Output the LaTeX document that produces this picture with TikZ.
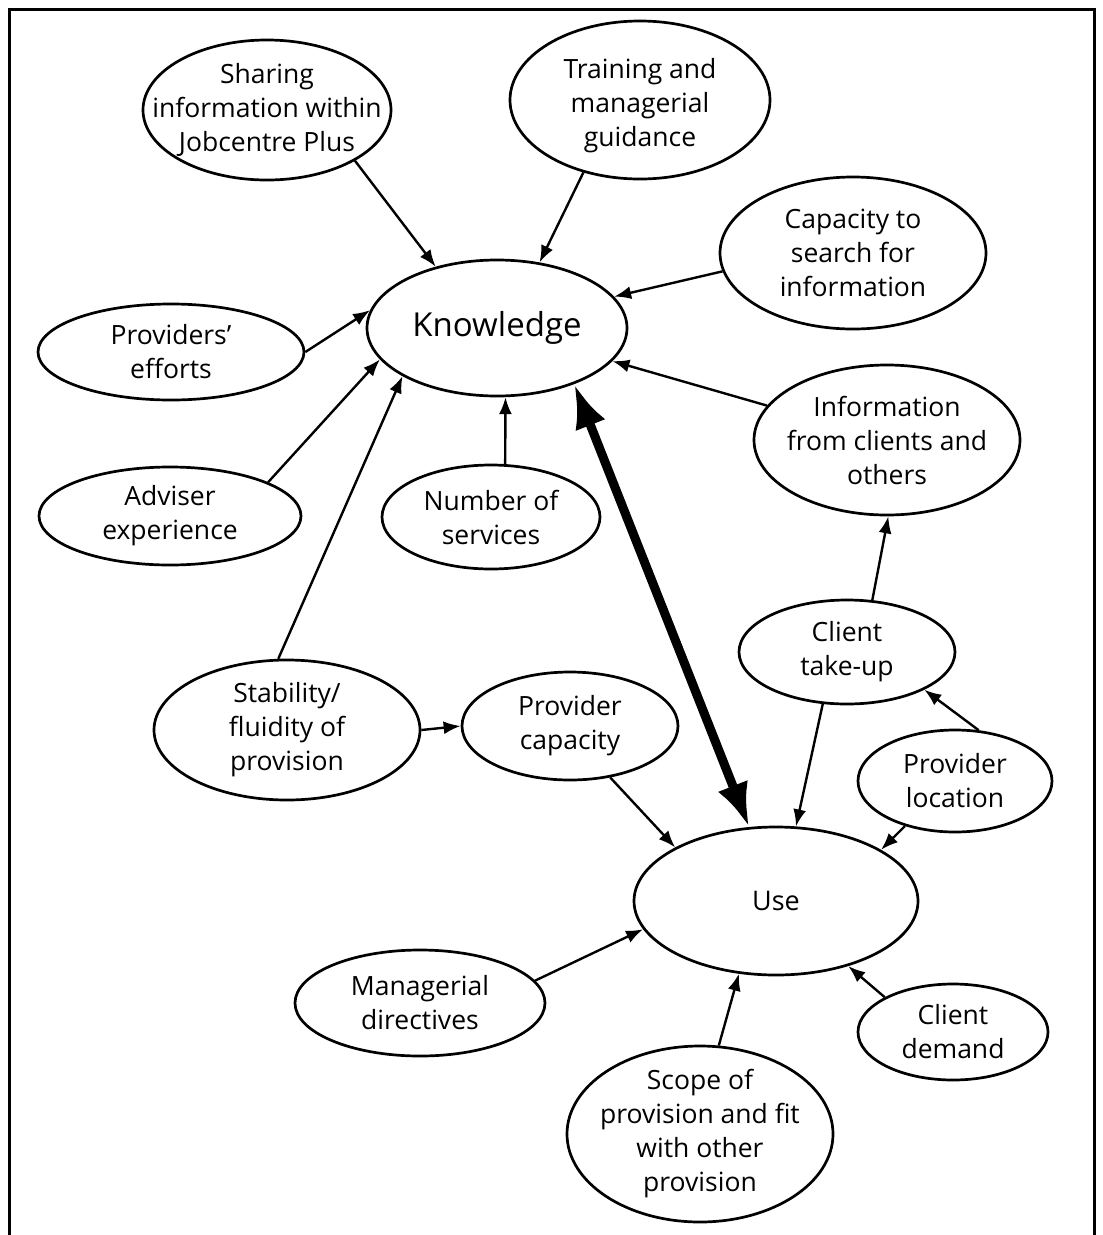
\documentclass[tikz,border=0pt]{standalone}
\usepackage{fontspec}
\setmainfont{Open Sans}
\usetikzlibrary{shapes.geometric,arrows.meta}
\tikzset{
  el/.style={draw, line width=2.7pt, ellipse, inner sep=0pt},
  txt/.style={align=center, inner sep=0pt, font=\fontsize{26.5}{34}\selectfont},
  arr/.style={line width=2.4pt, -{Latex[length=17pt,width=13pt]}},
  bigarr/.style={line width=9pt, {Latex[length=44pt,width=32pt]}-{Latex[length=44pt,width=32pt]}},
  frame/.style={line width=3pt}
}
\begin{document}
\begin{tikzpicture}[x=1pt,y=-1pt]
\useasboundingbox (0,0) rectangle (1103,1235);
\coordinate (bl) at (9,1235);
\coordinate (tl) at (9,9);
\coordinate (tr) at (1094,9);
\coordinate (br) at (1094,1235);
\draw[frame] (bl) -- (tl) -- (tr) -- (br);

\node[el, minimum width=248pt, minimum height=140pt] (sharing) at (267,110) {};
\node[txt] (sharing-t) at (sharing) {Sharing\\information within\\Jobcentre Plus};
\node[el, minimum width=260pt, minimum height=158pt] (training) at (640,100) {};
\node[txt] (training-t) at (640,106) {Training and\\managerial\\guidance};
\node[el, minimum width=266pt, minimum height=152pt] (capacity) at (853,253) {};
\node[txt] (capacity-t) at (capacity) {Capacity to\\search for\\information};
\node[el, minimum width=260pt, minimum height=136pt] (know) at (497,328) {};
\node[txt, font=\fontsize{33}{38}\selectfont] (know-t) at (know) {Knowledge};
\node[el, minimum width=266pt, minimum height=96pt] (providers) at (171,352) {};
\node[txt] (providers-t) at (providers) {Providers'\\efforts};
\node[el, minimum width=266pt, minimum height=150pt] (info) at (887,440) {};
\node[txt] (info-t) at (info) {Information\\from clients and\\others};
\node[el, minimum width=262pt, minimum height=98pt] (adviser) at (170,516) {};
\node[txt] (adviser-t) at (adviser) {Adviser\\experience};
\node[el, minimum width=218pt, minimum height=104pt] (number) at (491,517) {};
\node[txt] (number-t) at (number) {Number of\\services};
\node[el, minimum width=216pt, minimum height=104pt] (takeup) at (847,652) {};
\node[txt] (takeup-t) at (takeup) {Client\\take-up};
\node[el, minimum width=266pt, minimum height=140pt] (stab) at (287,730) {};
\node[txt] (stab-t) at (stab) {Stability/\\fluidity of\\provision};
\node[el, minimum width=216pt, minimum height=108pt] (pcap) at (570,726) {};
\node[txt] (pcap-t) at (pcap) {Provider\\capacity};
\node[el, minimum width=194pt, minimum height=102pt] (ploc) at (955,781) {};
\node[txt] (ploc-t) at (ploc) {Provider\\location};
\node[el, minimum width=284pt, minimum height=148pt] (use) at (776,901) {};
\node[txt, font=\fontsize{27}{34}\selectfont] (use-t) at (use) {Use};
\node[el, minimum width=250pt, minimum height=106pt] (mgr) at (420,1003) {};
\node[txt] (mgr-t) at (mgr) {Managerial\\directives};
\node[el, minimum width=190pt, minimum height=96pt] (demand) at (953,1032) {};
\node[txt] (demand-t) at (demand) {Client\\demand};
\node[el, minimum width=266pt, minimum height=176pt] (scope) at (700,1134) {};
\node[txt] (scope-t) at (scope) {Scope of\\provision and fit\\with other\\provision};

\draw[arr] (sharing.-30) -- (know.135);
\draw[arr] (training.-128) -- (know.57);
\draw[arr] (capacity.-172) -- (know.15);
\draw[arr] (info.164) -- (know.-16);
\draw[arr] (providers.0) -- (know.172);
\draw[arr] (adviser.19) -- (know.-165);
\draw[arr] (stab.97) -- (know.-153);
\draw[arr] (number.75) -- (know.-83);
\draw[bigarr] (know.-36) -- (use.110);
\draw[arr] (takeup.64) -- (info.-89);
\draw[arr] (takeup.-115) -- (use.75);
\draw[arr] (ploc.65) -- (takeup.-26);
\draw[arr] (ploc.-138) -- (use.26);
\draw[arr] (stab.0) -- (pcap.180);
\draw[arr] (pcap.-52) -- (use.152);
\draw[arr] (mgr.11) -- (use.-168);
\draw[arr] (demand.153) -- (use.-42);
\draw[arr] (scope.78) -- (use.-117);
\end{tikzpicture}
\end{document}
